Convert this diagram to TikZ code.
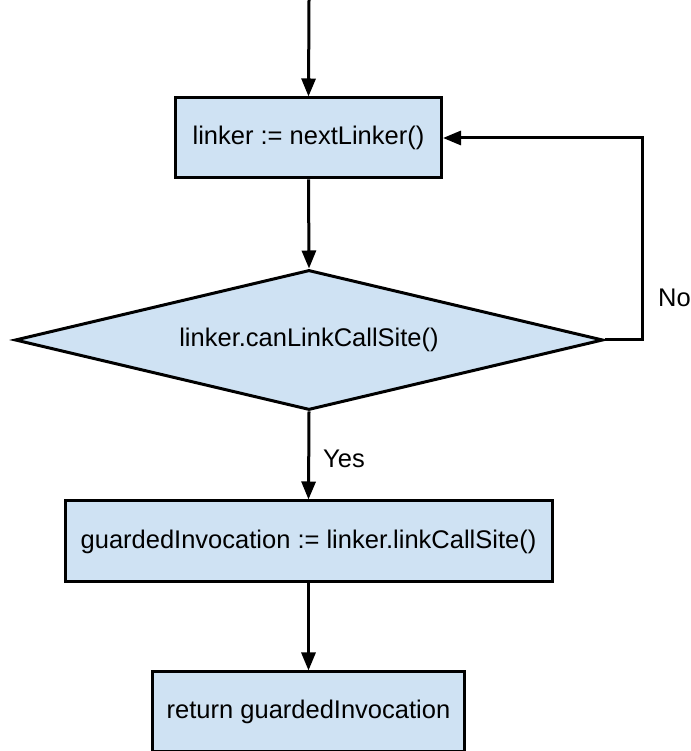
\documentclass[tikz,border=0pt]{standalone}
\usepackage{fontspec}
\setmainfont{Liberation Sans}
\usetikzlibrary{shapes.geometric,arrows.meta}
\definecolor{boxfill}{HTML}{CFE2F3}
\begin{document}
\begin{tikzpicture}[x=1pt,y=1pt,
  every node/.style={font=\fontsize{25.5}{30}\selectfont},
  flowbox/.style={draw=black, line width=3pt, fill=boxfill, inner sep=0pt},
  decision/.style={diamond, shape aspect=4.2, draw=black, line width=3pt, fill=boxfill, inner sep=0pt},
  flow/.style={line width=3pt, -{Triangle[length=18pt,width=14pt]}},
  plainlabel/.style={inner sep=0pt}]
\useasboundingbox (0,0) rectangle (690,751);
\clip (0,0) rectangle (690,751);

% steps of the linker search
\node[flowbox, minimum width=266pt, minimum height=80pt] (next) at (308.5,613) {linker := nextLinker()};
\node[decision, minimum width=588pt, minimum height=140pt] (can) at (309,411) {linker.canLinkCallSite()};
\node[flowbox, minimum width=487pt, minimum height=81pt] (link) at (308.5,209.5) {guardedInvocation := linker.linkCallSite()};
\node[flowbox, minimum width=312pt, minimum height=80pt] (ret) at (308.5,39) {return guardedInvocation};

% entry and loop corners
\coordinate (entry) at (309,751);
\coordinate (loopdown) at (642,411);
\coordinate (loopup) at (642,613);

\draw[flow] (entry) -- (next.north);
\draw[flow] (next.south) -- (can.north);
\draw[flow] (can.east) -- (loopdown) -- (loopup) -- (next.east);
\draw[flow] (can.south) -- (link.north);
\draw[flow] (link.south) -- (ret.north);

\node[plainlabel, anchor=base west] (nolabel) at (658,444) {No};
\node[plainlabel, anchor=base west] (yeslabel) at (323,283) {Yes};
\end{tikzpicture}
\end{document}
